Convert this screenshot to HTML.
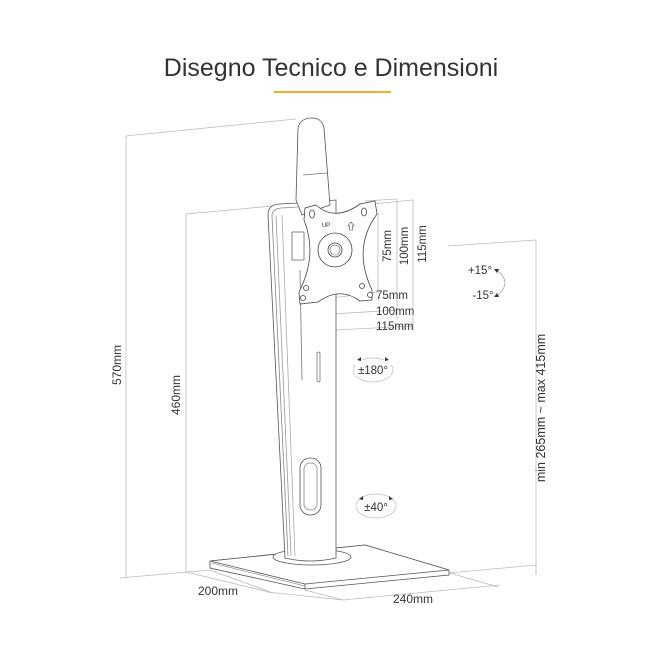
<!DOCTYPE html>
<html><head><meta charset="utf-8"><style>
html,body{margin:0;padding:0;background:#fff;}
svg{display:block;}
text{font-family:"Liberation Sans",sans-serif;fill:#333;}
</style></head><body>
<svg width="662" height="662" viewBox="0 0 662 662" xmlns="http://www.w3.org/2000/svg">
<text x="331" y="76" text-anchor="middle" font-size="25" fill="#444">Disegno Tecnico e Dimensioni</text>
<rect x="274" y="91" width="117" height="2" fill="#f2b01e"/>

<g stroke="#bbb" stroke-width="0.8" fill="none">
<polyline points="296,119 126,136 126,578"/>
<line x1="120" y1="578" x2="210" y2="570"/>
<polyline points="283,205 186,214 186,573"/>
<polyline points="448,246 536,240 536,575"/>
<line x1="448" y1="573" x2="537" y2="565"/>
<line x1="450" y1="573" x2="498" y2="587"/>
<line x1="186" y1="572" x2="273" y2="593"/>
<line x1="210" y1="570" x2="273" y2="593"/>
<line x1="267" y1="592" x2="343" y2="600"/>
<line x1="343" y1="600" x2="500" y2="585"/>
<line x1="305" y1="590" x2="343" y2="600"/>
<polyline points="365,201 397,199 397,320"/>
<polyline points="362,205 413,200 413,330"/>
<polyline points="366,214 378,214 378,290"/>
<line x1="316" y1="292" x2="316" y2="302"/>
<line x1="316" y1="300" x2="378" y2="292"/>
<line x1="300" y1="308" x2="300" y2="318"/>
<line x1="300" y1="316" x2="397" y2="310"/>
<line x1="296" y1="322" x2="296" y2="334"/>
<line x1="296" y1="332" x2="413" y2="326"/>
</g>

<g stroke="#555" stroke-width="0.8" fill="#fff">
<polygon points="210,561 365,545 449,570 449,575 305,589 210,568"/>
<polygon points="210,561 365,545 449,570 305,584"/>
<line x1="305" y1="584" x2="305" y2="589"/>
<line x1="212" y1="563" x2="305" y2="586" stroke="#999"/>
<ellipse cx="312" cy="557" rx="39" ry="8"/>
</g>

<g stroke="#555" stroke-width="0.8" fill="#fff">
<path d="M268,215 Q268,205 279,204 L300,203 L336,200 L336,558 Q310,564 285,558 Z"/>
<path d="M272,216 Q272,209 281,208 L298,207" fill="none" stroke="#888"/>
<line x1="272" y1="216" x2="288" y2="556" stroke="#888"/>
<line x1="276" y1="216" x2="291" y2="556" stroke="#999"/>
<line x1="282" y1="215" x2="295" y2="556" stroke="#aaa"/>
<line x1="300" y1="270" x2="302" y2="380" stroke="#777"/>
<rect x="317" y="352" width="3" height="30" rx="1.5" stroke="#777"/>
<rect x="300" y="458" width="21" height="57" rx="10"/>
<rect x="304" y="463" width="13" height="47" rx="6" stroke="#888"/>
</g>

<g stroke="#555" stroke-width="0.8" fill="#fff">
<path d="M298,128 Q300,118 312,118 Q322,118 324,128 L330,205 L302,215 L296,200 Z"/>
<line x1="303" y1="175" x2="327" y2="173" stroke="#777"/>
<rect x="292" y="232" width="12" height="28" stroke="#666"/>
</g>

<g stroke="#444" stroke-width="0.8" fill="#fff">
<path d="M305,208 L316,205 Q335,222 360,204 L375,201 L377,214 Q352,248 372,290 L372,300 L360,301 Q340,286 318,302 L300,304 L299,292 Q318,255 304,220 Z"/>
<circle cx="335" cy="250" r="17"/>
<circle cx="335" cy="250" r="7"/>
<circle cx="335" cy="250" r="5" stroke="#888"/>
<ellipse cx="312" cy="214" rx="2.5" ry="4"/>
<ellipse cx="364" cy="212" rx="2.5" ry="4"/>
<circle cx="306" cy="288" r="2.5"/>
<circle cx="362" cy="286" r="2.5"/>
<circle cx="303" cy="298" r="2.5"/>
<circle cx="370" cy="295" r="2.5"/>
<path d="M348,226 l3,-4 l3,4 h-1.5 v4 h-3 v-4 z" stroke-width="0.6"/>
</g>
<text x="326" y="227" font-size="6" fill="#444" text-anchor="middle">UP</text>

<text transform="translate(391,246) rotate(-90)" text-anchor="middle" font-size="11.5">75mm</text>
<text transform="translate(408,246) rotate(-90)" text-anchor="middle" font-size="11.5">100mm</text>
<text transform="translate(426,244) rotate(-90)" text-anchor="middle" font-size="11.5">115mm</text>
<text x="376" y="299" font-size="11.5">75mm</text>
<text x="376" y="315" font-size="11.5">100mm</text>
<text x="376" y="330" font-size="11.5">115mm</text>

<text x="480" y="274" text-anchor="middle" font-size="11.5">+15°</text>
<text x="483" y="299" text-anchor="middle" font-size="11.5">-15°</text>
<path d="M498,271 Q512,283 498,295" fill="none" stroke="#999" stroke-width="0.7"/>
<path d="M494,269 l5,0 l-2,4z M494,297 l5,0 l-2,-4z" fill="#333"/>

<ellipse cx="373" cy="370" rx="20" ry="12" fill="none" stroke="#bbb" stroke-width="0.7"/>
<rect x="355" y="360" width="36" height="16" fill="#fff"/>
<text x="373" y="374" text-anchor="middle" font-size="11.5">±180°</text>
<path d="M357,360 l4,-3 l0,4z M389,360 l-4,-3 l0,4z" fill="#333"/>
<ellipse cx="376" cy="506" rx="20" ry="12" fill="none" stroke="#bbb" stroke-width="0.7"/>
<rect x="362" y="499" width="28" height="14" fill="#fff"/>
<text x="376" y="511" text-anchor="middle" font-size="11.5">±40°</text>
<path d="M359,499 l4,-3 l0,4z M393,499 l-4,-3 l0,4z" fill="#333"/>

<text transform="translate(121,365) rotate(-90)" text-anchor="middle" font-size="12">570mm</text>
<text transform="translate(180,395) rotate(-90)" text-anchor="middle" font-size="12">460mm</text>
<text transform="translate(545,408) rotate(-90)" text-anchor="middle" font-size="12.5">min 265mm ~ max 415mm</text>
<text x="218" y="595" text-anchor="middle" font-size="12">200mm</text>
<text x="413" y="603" text-anchor="middle" font-size="12">240mm</text>
</svg>
</body></html>
